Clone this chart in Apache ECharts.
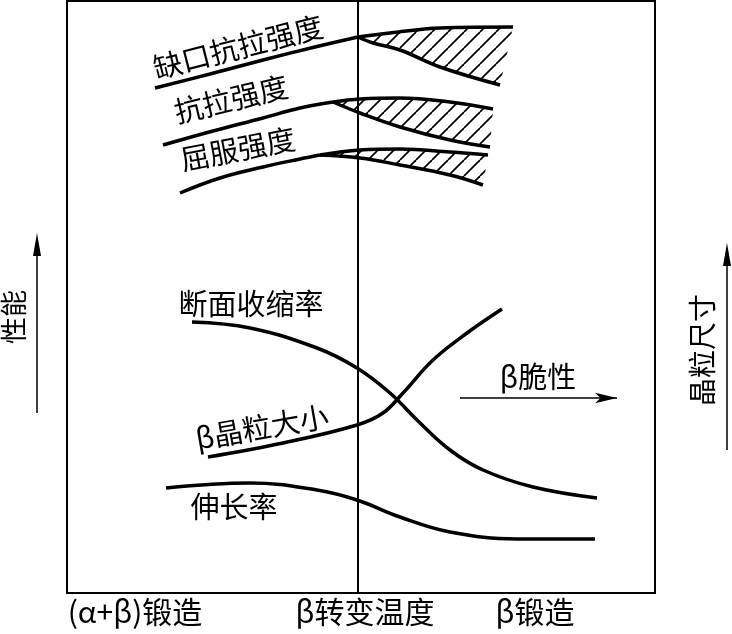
<html>
<head>
    <meta http-equiv="Content-Type" content="text/html; charset=utf-8" />
</head>
<script type="text/javascript" src="https://cdn.jsdelivr.net/npm/echarts@6/dist/echarts.min.js"></script>

<body style="margin:0">
<div id="main" style="width: 732px;height:634px;"></div>
</body>

<script type="text/javascript">
    // 示意图数据：x 为锻造温度位置，y 为性能/晶粒尺寸（任意单位）
    var notchMain  = [[88,505],[143,519],[196,533],[248,546],[291,556]];
    var notchUpper = [[291,556],[323,560],[373,565],[446,566]];
    var notchLower = [[291,556],[306,550],[333,543],[373,526],[433,508]];

    var tensileMain  = [[96,448],[146,462],[196,475],[233,485],[266,491]];
    var tensileUpper = [[266,491],[293,494],[333,495],[383,491],[426,484]];
    var tensileLower = [[266,491],[293,480],[333,466],[383,453],[423,446]];

    var yieldMain  = [[113,400],[153,415],[196,426],[233,434],[253,438]];
    var yieldUpper = [[253,438],[293,443],[333,444],[383,441],[421,438]];
    var yieldLower = [[253,438],[293,435],[333,428],[383,418],[416,408]];

    var reduction = [[125,271],[183,265],[250,245],[290,225],[323,200],[350,173],[383,143],[416,123],[466,106],[530,95]];
    var grainSize = [[141,136],[216,150],[290,168],[316,180],[336,200],[366,233],[400,260],[435,284]];
    var elongation = [[99,105],[183,110],[250,103],[290,93],[333,76],[383,61],[450,54],[528,54]];

    var transitionX = 291;
    var brittleArrow = [[393,195],[550,195]];

    var tickValues = [68, 298, 468];
    var tickLabels = ['(α+β)锻造', 'β转变温度', 'β锻造'];

    var hatchRegions = [
        [notchUpper, notchLower],
        [tensileUpper, tensileLower],
        [yieldUpper, yieldLower]
    ];

    // 斜线填充图案
    function makeHatch() {
        var s = 16;
        var c = document.createElement('canvas');
        c.width = s; c.height = s;
        var ctx = c.getContext('2d');
        ctx.strokeStyle = '#000';
        ctx.lineWidth = 1.8;
        for (var k = -s; k <= s; k += s) {
            ctx.beginPath();
            ctx.moveTo(k, s);
            ctx.lineTo(k + s, 0);
            ctx.stroke();
        }
        return c;
    }
    var hatch = makeHatch();

    var font = '"Noto Sans CJK SC", sans-serif';

    function curve(data) {
        return {
            type: 'line',
            data: data,
            smooth: 0.4,
            symbol: 'none',
            z: 3,
            lineStyle: { color: '#000', width: 3.5 },
            silent: true
        };
    }

    function txt(text, x, y, rot, size) {
        return {
            type: 'text',
            x: x, y: y,
            rotation: rot || 0,
            style: {
                text: text,
                fill: '#000',
                font: 'normal ' + (size || 29) + 'px ' + font,
                textAlign: 'center',
                textVerticalAlign: 'middle'
            }
        };
    }

    var myChart = echarts.init(document.getElementById('main'));

    var series = [
        {
            type: 'custom',
            data: [[0,0],[0,0],[0,0]],
            z: 1,
            silent: true,
            renderItem: function (params, api) {
                var r = hatchRegions[params.dataIndex];
                var pts = r[0].map(function (p) { return api.coord(p); })
                    .concat(r[1].slice().reverse().map(function (p) { return api.coord(p); }));
                return {
                    type: 'polygon',
                    shape: { points: pts },
                    style: { fill: { image: hatch, repeat: 'repeat' }, stroke: null }
                };
            }
        },
        curve(notchMain), curve(notchUpper), curve(notchLower),
        curve(tensileMain), curve(tensileUpper), curve(tensileLower),
        curve(yieldMain), curve(yieldUpper), curve(yieldLower),
        curve(reduction), curve(grainSize), curve(elongation),
        {
            type: 'line',
            data: [],
            markLine: {
                silent: true,
                animation: false,
                label: { show: false },
                data: [
                    [{ coord: [transitionX, 0], symbol: 'none' }, { coord: [transitionX, 592], symbol: 'none' }],
                    [{ coord: brittleArrow[0], symbol: 'none', lineStyle: { width: 1.5 } },
                     { coord: brittleArrow[1], symbol: 'arrow', symbolSize: [8, 22] }]
                ],
                lineStyle: { color: '#000', width: 2, type: 'solid' }
            }
        }
    ];

    var option = {
        animation: false,
        grid: {
            left: 67, right: 77, top: 1, bottom: 41,
            show: true, borderColor: '#000', borderWidth: 2
        },
        xAxis: {
            type: 'value', min: 0, max: 588,
            splitLine: { show: false },
            axisLine: { show: false },
            axisTick: { show: false },
            axisLabel: {
                customValues: tickValues,
                formatter: function (v) {
                    var i = tickValues.indexOf(v);
                    return i >= 0 ? tickLabels[i] : '';
                },
                margin: 4,
                color: '#000',
                fontSize: 30,
                fontFamily: font
            }
        },
        yAxis: {
            type: 'value', min: 0, max: 592, show: false
        },
        graphic: [
            txt('缺口抗拉强度', 238, 47, 0.25),
            txt('抗拉强度', 231, 99, 0.234),
            txt('屈服强度', 238, 149, 0.19),
            txt('断面收缩率', 251, 304, 0),
            txt('β晶粒大小', 262, 427, 0.175),
            txt('伸长率', 234, 507, 0),
            txt('β脆性', 538, 377, 0),
            txt('性能', 14, 317, Math.PI / 2, 27),
            txt('晶粒尺寸', 702, 350, Math.PI / 2, 28),
            { type: 'line', shape: { x1: 37, y1: 413, x2: 37, y2: 250 }, style: { stroke: '#000', lineWidth: 1.5 } },
            { type: 'polygon', shape: { points: [[37, 233], [33, 256], [41, 256]] }, style: { fill: '#000' } },
            { type: 'line', shape: { x1: 727, y1: 450, x2: 727, y2: 260 }, style: { stroke: '#000', lineWidth: 1.5 } },
            { type: 'polygon', shape: { points: [[727, 243], [723, 266], [731, 266]] }, style: { fill: '#000' } }
        ],
        series: series
    };

    myChart.setOption(option);
</script>
</html>
